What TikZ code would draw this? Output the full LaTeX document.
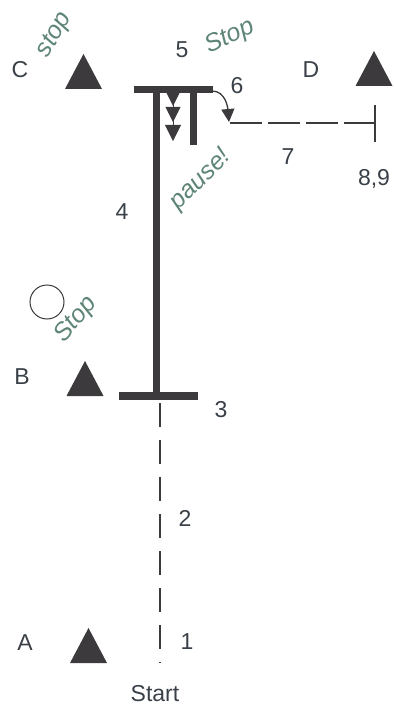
\documentclass[tikz,border=0pt]{standalone}
\usepackage{fontspec}
\setmainfont{Liberation Sans}
\usetikzlibrary{arrows.meta}
\definecolor{ink}{HTML}{3C3A3C}
\definecolor{txt}{HTML}{3A4048}
\definecolor{pen}{HTML}{5E8575}
\begin{document}
\begin{tikzpicture}[x=1pt,y=-1pt,
  lbl/.style={text=txt,font=\fontsize{23}{23}\selectfont,inner sep=0pt},
  hand/.style={text=pen,font=\fontsize{25}{25}\selectfont\itshape,inner sep=0pt},
  barline/.style={ink,line width=7pt},
  dashline/.style={ink,line width=1.2pt},
  cone/.pic={\fill[ink] (-18.5,17.5) -- (0,-17.5) -- (18.5,17.5) -- cycle;},
  smalltri/.pic={\fill[ink] (-7,-7) -- (7,-7) -- (0,7) -- cycle;}]
\useasboundingbox (0,0) rectangle (395,711);
% cones
\pic at (83.5,71.5) {cone};
\pic at (374,68.5) {cone};
\pic at (85,378.5) {cone};
\pic at (88.5,645.5) {cone};
% coordinates of the course
\coordinate (top1) at (134,89.5);
\coordinate (top2) at (213,89.5);
\coordinate (vtop) at (156.5,86);
\coordinate (vbot) at (156.5,396);
\coordinate (bar1) at (119,396);
\coordinate (bar2) at (198,396);
\coordinate (s1) at (193.5,89);
\coordinate (s2) at (193.5,145);
\coordinate (st1) at (173,93);
\coordinate (st2) at (173,139);
\coordinate (arrS) at (212,91);
\coordinate (arrE) at (229,122);
\coordinate (h1) at (230,123);
\coordinate (h2) at (375,123);
\coordinate (tk1) at (375,105);
\coordinate (tk2) at (375,142);
\coordinate (d1) at (160,403);
\coordinate (d2) at (160,663);
% solid bars
\draw[barline] (vtop) -- (vbot);
\draw[barline] (top1) -- (top2);
\draw[ink,line width=8pt] (bar1) -- (bar2);
\draw[barline] (s1) -- (s2);
% small arrows
\draw[ink,line width=1pt] (st1) -- (st2);
\pic at (173,99) {smalltri};
\pic[scale=1.1] at (173,114.5) {smalltri};
\pic[scale=1.15] at (173,133) {smalltri};
% curved arrow and dashed line
\draw[ink,line width=1.3pt,-{Triangle[length=13pt,width=13pt]}] (arrS) to[out=0,in=95] (arrE);
\draw[dashline,dash pattern=on 32pt off 6pt] (h1) -- (h2);
\draw[dashline] (tk1) -- (tk2);
\draw[dashline,dash pattern=on 24pt off 13pt] (d1) -- (d2);
% circle
\node[draw=ink,line width=1pt,circle,minimum size=34pt,inner sep=0pt] (circ) at (47,302) {};
% printed labels
\node[lbl] (lC) at (20,70) {C};
\node[lbl] (l5) at (182,50) {5};
\node[lbl] (l6) at (237,86) {6};
\node[lbl] (lD) at (311,70) {D};
\node[lbl] (l7) at (288,157) {7};
\node[lbl] (l89) at (374,179) {8,9};
\node[lbl] (l4) at (122,212) {4};
\node[lbl] (lB) at (22,377) {B};
\node[lbl] (l3) at (221,410) {3};
\node[lbl] (l2) at (185,518) {2};
\node[lbl] (l1) at (187,642) {1};
\node[lbl] (lA) at (25,643) {A};
\node[lbl] (lS) at (155,694) {Start};
% handwritten notes
\node[hand,rotate=60] (hC) at (55,35) {stop};
\node[hand,rotate=25] (h5) at (230,37) {Stop};
\node[hand,rotate=45] (hP) at (201,180) {pause!};
\node[hand,rotate=50] (hB) at (76,320) {Stop};
\end{tikzpicture}
\end{document}
